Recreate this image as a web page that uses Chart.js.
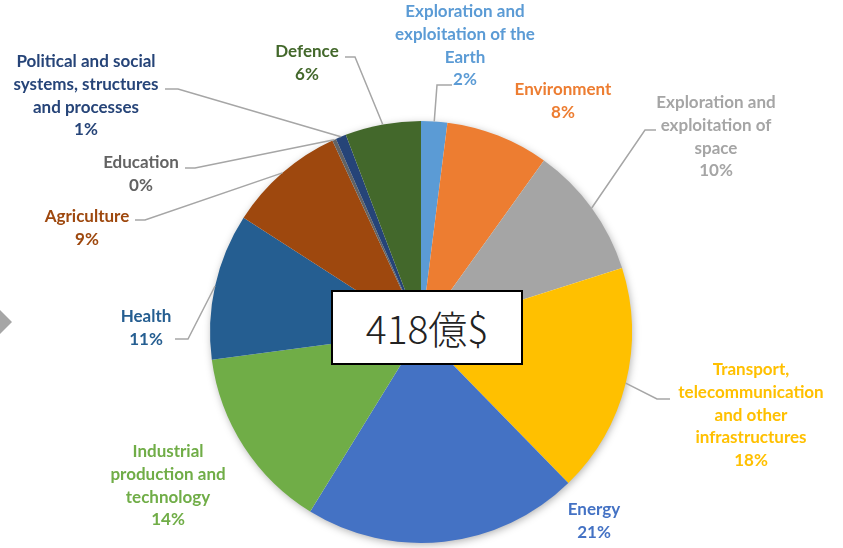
<!DOCTYPE html>
<html><head><meta charset="utf-8">
<script src="https://cdn.jsdelivr.net/npm/chart.js@4"></script>
<style>
html,body{margin:0;padding:0;background:#fff;width:843px;height:548px;overflow:hidden;}
#wrap{position:relative;width:843px;height:548px;}
canvas{position:absolute;left:0;top:0;}
#chev{position:absolute;left:-17px;top:310px;width:24px;height:24px;background:#a6a6a6;transform:rotate(45deg);}
#total{position:absolute;left:331px;top:290px;width:188px;height:71px;border:2px solid #000;background:#fff;
 font-family:"Noto Sans CJK JP Light","Noto Sans CJK JP";font-weight:300;font-size:39px;line-height:71px;text-align:center;color:#222;}
</style></head>
<body><div id="wrap"><div id="chev"></div><canvas id="c" width="843" height="548"></canvas><div id="total">418億$</div></div>
<script>
const categories = ["Exploration and exploitation of the Earth","Environment","Exploration and exploitation of space","Transport, telecommunication and other infrastructures","Energy","Industrial production and technology","Health","Agriculture","Education","Political and social systems, structures and processes","Defence"];
const shares = [2.0, 7.9, 10.2, 17.6, 21.1, 14.1, 11.2, 9.0, 0.3, 0.8, 5.8];
const percentLabels = ["2%","8%","10%","18%","21%","14%","11%","9%","0%","1%","6%"];
const labelLines = [
 ["Exploration and","exploitation of the","Earth"],
 ["Environment"],
 ["Exploration and","exploitation of","space"],
 ["Transport,","telecommunication","and other","infrastructures"],
 ["Energy"],
 ["Industrial","production and","technology"],
 ["Health"],
 ["Agriculture"],
 ["Education"],
 ["Political and social","systems, structures","and processes"],
 ["Defence"]
];
const colors = ["#5B9BD5","#ED7D31","#A5A5A5","#FFC000","#4472C4","#70AD47","#255E91","#9E480E","#636363","#264478","#43682B"];

// label layout: text centre x, first-line y, leader elbow points (null = no leader)
const layout = [
 {x:465,y:12,leader:[[452,85],[437,85]]},
 {x:563,y:90,leader:null},
 {x:716,y:103,leader:[[656,130],[645,130]]},
 {x:751,y:370,leader:[[670,399],[657,399]]},
 {x:594,y:510,leader:null},
 {x:168,y:452,leader:null},
 {x:146,y:317,leader:[[175,339],[188,339]]},
 {x:87,y:217,leader:[[135,220],[145,220]]},
 {x:141,y:163,leader:[[185,168],[195,168]]},
 {x:86,y:62,leader:[[165,89],[178,89]]},
 {x:307,y:52,leader:[[345,57],[355,57]]}
];

const shadowPlugin = {
 id:'shadow',
 beforeDatasetsDraw(chart){
  const a = chart.getDatasetMeta(0).data[0];
  const ctx = chart.ctx;
  ctx.save();
  ctx.shadowColor='rgba(0,0,0,0.35)';
  ctx.shadowBlur=8; ctx.shadowOffsetX=1; ctx.shadowOffsetY=2;
  ctx.beginPath(); ctx.arc(a.x,a.y,a.outerRadius-1,0,Math.PI*2);
  ctx.fillStyle='#fff'; ctx.fill();
  ctx.restore();
 }
};
const labelPlugin = {
 id:'labels',
 afterDatasetsDraw(chart){
  const ctx = chart.ctx;
  const meta = chart.getDatasetMeta(0);
  ctx.save();
  meta.data.forEach((arc,i)=>{
   const L = layout[i];
   if(L.leader){
    const mid=(arc.startAngle+arc.endAngle)/2;
    const px=arc.x+Math.cos(mid)*arc.outerRadius, py=arc.y+Math.sin(mid)*arc.outerRadius;
    ctx.strokeStyle='#a6a6a6'; ctx.lineWidth=1.5;
    ctx.beginPath(); ctx.moveTo(L.leader[0][0],L.leader[0][1]);
    ctx.lineTo(L.leader[1][0],L.leader[1][1]); ctx.lineTo(px,py); ctx.stroke();
   }
   ctx.fillStyle=colors[i];
   ctx.font='bold 17px Lato';
   ctx.textAlign='center'; ctx.textBaseline='middle';
   const lines=labelLines[i].concat([percentLabels[i]]);
   lines.forEach((t,k)=>ctx.fillText(t,L.x,L.y+k*22.6));
  });
  ctx.restore();
 }
};

new Chart(document.getElementById('c'),{
 type:'pie',
 data:{labels:categories,datasets:[{data:shares,backgroundColor:colors,borderWidth:0}]},
 options:{
  responsive:false,animation:false,
  layout:{padding:{top:121,bottom:5,left:0,right:1}},
  plugins:{legend:{display:false},tooltip:{enabled:false}}
 },
 plugins:[shadowPlugin,labelPlugin]
});
</script></body></html>
